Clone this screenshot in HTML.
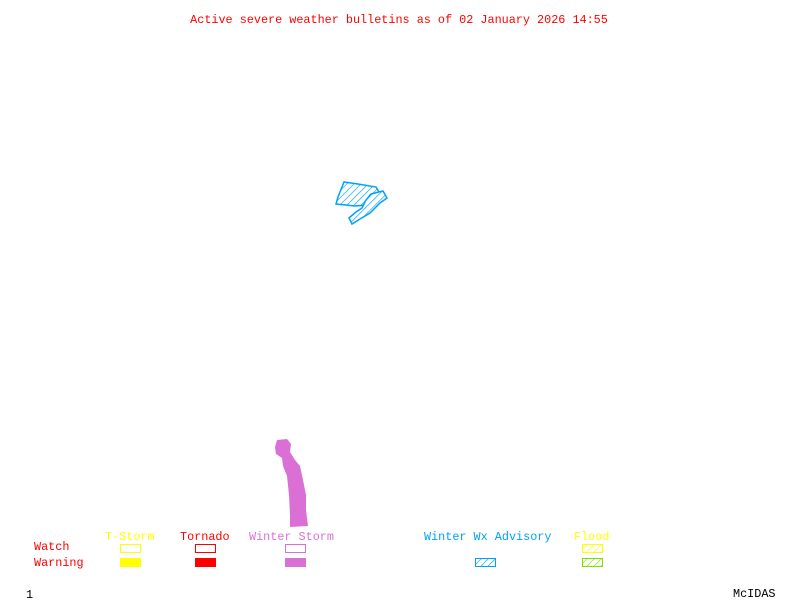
<!DOCTYPE html>
<html><head><meta charset="utf-8"><style>
html,body{margin:0;padding:0;background:#fff}
svg{display:block}
text{font-family:"Liberation Mono","DejaVu Sans Mono",monospace;font-size:11.8px}
</style></head><body>
<svg width="800" height="600" xmlns="http://www.w3.org/2000/svg">
<defs>
<pattern id="hb" width="5" height="5" patternUnits="userSpaceOnUse" patternTransform="rotate(45)"><rect width="5" height="5" fill="#fff"/><line x1="0" y1="0" x2="0" y2="5" stroke="#00a0ff" stroke-width="1.3"/></pattern>
<pattern id="hy" width="5" height="5" patternUnits="userSpaceOnUse" patternTransform="rotate(45)"><rect width="5" height="5" fill="#fff"/><line x1="0" y1="0" x2="0" y2="5" stroke="#ffff00" stroke-width="1.3"/></pattern>
<pattern id="hg" width="5" height="5" patternUnits="userSpaceOnUse" patternTransform="rotate(45)"><rect width="5" height="5" fill="#fff"/><line x1="0" y1="0" x2="0" y2="5" stroke="#80e000" stroke-width="1.3"/></pattern>
</defs>
<rect width="800" height="600" fill="#fff"/>
<text x="399" y="23" fill="#ff0000" text-anchor="middle">Active severe weather bulletins as of 02 January 2026 14:55</text>

<polygon points="344,182 358,184 376,187 379,192 370,195 367,205 355,206 336,204 338,197" fill="url(#hb)" stroke="#00a0ff" stroke-width="1.5"/>
<polygon points="371,194 383,191 387,198 380,203 370,213 360,219 352,224 349,218 356,212 362,208 366,200" fill="url(#hb)" stroke="#00a0ff" stroke-width="1.5"/>

<polygon points="277,440 287,439 291,444 290,452 295,460 300,466 303,480 306,495 306,510 308,526 290,527 290,515 289,495 287,476 283,466 282,458 276,454 275,447" fill="#da70d6"/>

<text x="34" y="550" fill="#ff0000">Watch</text>
<text x="34" y="566" fill="#ff0000">Warning</text>
<text x="105" y="540" fill="#ffff00">T-Storm</text>
<text x="180" y="540" fill="#ff0000">Tornado</text>
<text x="249" y="540" fill="#da70d6">Winter Storm</text>
<text x="424" y="540" fill="#00a0ff">Winter Wx Advisory</text>
<text x="574" y="540" fill="#ffff00">Flood</text>

<rect x="120.5" y="544.5" width="20" height="8" fill="none" stroke="#ffff00" stroke-width="1"/>
<rect x="120" y="558" width="21" height="9" fill="#ffff00"/>
<rect x="195.5" y="544.5" width="20" height="8" fill="none" stroke="#ff0000" stroke-width="1"/>
<rect x="195" y="558" width="21" height="9" fill="#ff0000"/>
<rect x="285.5" y="544.5" width="20" height="8" fill="none" stroke="#da70d6" stroke-width="1"/>
<rect x="285" y="558" width="21" height="9" fill="#da70d6"/>
<rect x="475.5" y="558.5" width="20" height="8" fill="url(#hb)" stroke="#00a0ff" stroke-width="1"/>
<rect x="582.5" y="544.5" width="20" height="8" fill="url(#hy)" stroke="#ffff00" stroke-width="1"/>
<rect x="582.5" y="558.5" width="20" height="8" fill="url(#hg)" stroke="#80e000" stroke-width="1"/>

<text x="26" y="598" fill="#000">1</text>
<text x="733" y="597" fill="#000">McIDAS</text>
</svg>
</body></html>
